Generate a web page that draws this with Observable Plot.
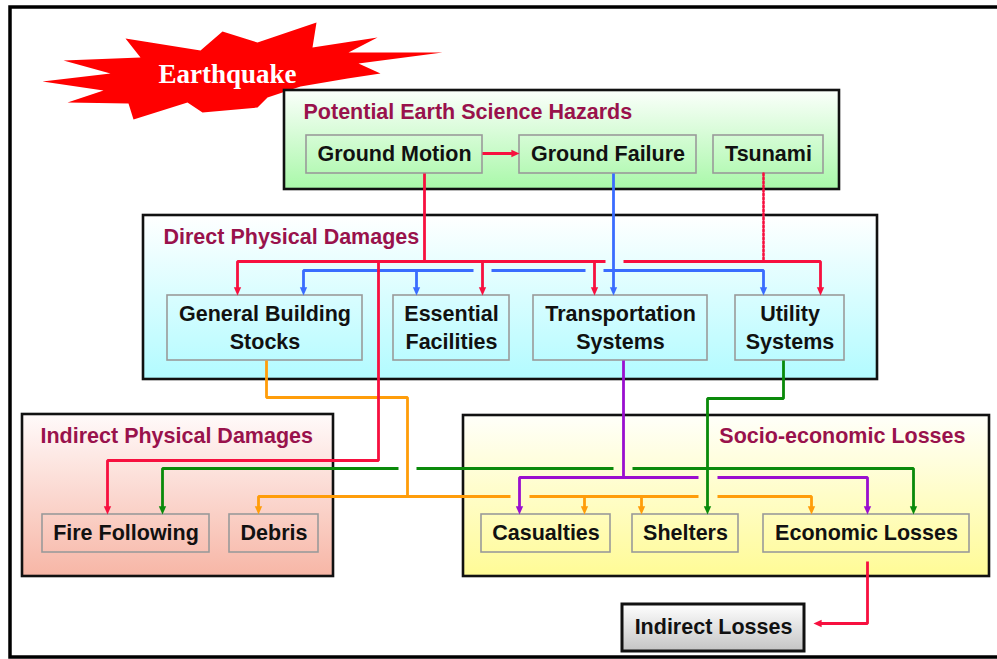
<!DOCTYPE html>
<html>
<head>
<meta charset="utf-8">
<script src="https://cdn.jsdelivr.net/npm/d3@7"></script>
<script src="https://cdn.jsdelivr.net/npm/@observablehq/plot@0.6"></script>
<style>
  html, body { margin: 0; padding: 0; background: #fff; overflow: hidden; }
</style>
</head>
<body>
<div id="chart"></div>
<script>
// ---------- data (diagram coordinates, px-like units) ----------
const frameBox = [{x1: 10, y1: 7, x2: 1001, y2: 657}];

const starburst = [
  [42,81],[110,73],[63,60],[140,57],[125,38],[200,50],[222,31],[257,42],[316,22],[312,47],
  [377,37],[348,52],[442,52],[358,63],[380,73],[347,78],[300,86],[267,97],[257,107],[202,112],
  [187,102],[133,119],[128,103],[67,102],[103,90]
];
const burstLabel = [{x: 227, y: 74, text: "Earthquake"}];

const panels = [
  {id: "hazard",   title: "Potential Earth Science Hazards", x1: 284, y1: 90,  x2: 839, y2: 189, tx: 303, ty: 113, anchor: "start"},
  {id: "direct",   title: "Direct Physical Damages",         x1: 143, y1: 215, x2: 877, y2: 379, tx: 163, ty: 238, anchor: "start"},
  {id: "indirect", title: "Indirect Physical Damages",       x1: 22,  y1: 414, x2: 333, y2: 576, tx: 40,  ty: 437, anchor: "start"},
  {id: "socio",    title: "Socio-economic Losses",           x1: 463, y1: 415, x2: 989, y2: 576, tx: 965, ty: 437, anchor: "end"}
];

const nodes = [
  {label: "Ground Motion",            x1: 306, y1: 135, x2: 482, y2: 173},
  {label: "Ground Failure",           x1: 519, y1: 135, x2: 696, y2: 173},
  {label: "Tsunami",                  x1: 713, y1: 135, x2: 823, y2: 173},
  {label: "General Building\nStocks", x1: 167, y1: 295, x2: 362, y2: 360},
  {label: "Essential\nFacilities",    x1: 393, y1: 295, x2: 509, y2: 360},
  {label: "Transportation\nSystems",  x1: 533, y1: 295, x2: 707, y2: 360},
  {label: "Utility\nSystems",         x1: 735, y1: 295, x2: 844, y2: 360},
  {label: "Fire Following",           x1: 42,  y1: 514, x2: 209, y2: 552},
  {label: "Debris",                   x1: 229, y1: 514, x2: 318, y2: 552},
  {label: "Casualties",               x1: 481, y1: 514, x2: 610, y2: 552},
  {label: "Shelters",                 x1: 632, y1: 514, x2: 738, y2: 552},
  {label: "Economic Losses",          x1: 763, y1: 514, x2: 969, y2: 552}
];
const finalNode = [{label: "Indirect Losses", x1: 622, y1: 604, x2: 804, y2: 651}];

// connectors: polyline points, arrowhead at the last point
const redLinks = [
  {pts: [[482,153],[519,153]], arrow: true},
  {pts: [[424,173],[424,261]], arrow: false},
  {pts: [[605,261],[237,261],[237,295]], arrow: true},
  {pts: [[623,261],[820,261],[820,295]], arrow: true},
  {pts: [[482,261],[482,295]], arrow: true},
  {pts: [[594,261],[594,295]], arrow: true},
  {pts: [[378,261],[378,460],[107,460],[107,514]], arrow: true},
  {pts: [[867,561],[867,623],[813,623]], arrow: true}
];
const redDotted = [{pts: [[763,173],[763,261]], arrow: false}];
const blueLinks = [
  {pts: [[613,173],[613,295]], arrow: true},
  {pts: [[473,270],[303,270],[303,295]], arrow: true},
  {pts: [[416,270],[416,295]], arrow: true},
  {pts: [[491,270],[585,270]], arrow: false},
  {pts: [[603,270],[763,270],[763,295]], arrow: true}
];
const orangeLinks = [
  {pts: [[266,360],[266,397],[407,397],[407,496]], arrow: false},
  {pts: [[510,496],[258,496],[258,514]], arrow: true},
  {pts: [[529,496],[698,496]], arrow: false},
  {pts: [[584,496],[584,514]], arrow: true},
  {pts: [[641,496],[641,514]], arrow: true},
  {pts: [[717,496],[811,496],[811,514]], arrow: true}
];
const purpleLinks = [
  {pts: [[623,360],[623,477]], arrow: false},
  {pts: [[698,477],[519,477],[519,514]], arrow: true},
  {pts: [[717,477],[867,477],[867,514]], arrow: true}
];
const greenLinks = [
  {pts: [[783,360],[783,398],[707,398],[707,514]], arrow: true},
  {pts: [[398,468],[162,468],[162,514]], arrow: true},
  {pts: [[416,468],[613,468]], arrow: false},
  {pts: [[632,468],[913,468],[913,514]], arrow: true}
];

// ---------- styles ----------
const COLORS = {red: "#f7103f", blue: "#3a6cff", orange: "#ff9d0a", purple: "#9a0fcf", green: "#0a8a0a"};
const TITLE_COLOR = "#99124c";
const FONT = "Liberation Sans, Arial, Helvetica, sans-serif";
const FS = 21.5;
const gradients = {
  hazard:   ["#fbfffb", "#a9f8a9"],
  direct:   ["#ffffff", "#b2fbff"],
  indirect: ["#fffafa", "#f7b6a6"],
  socio:    ["#fffffa", "#fffb96"],
  final:    ["#ffffff", "#c4c4c4"]
};

// ---------- helpers ----------
function flatten(links, color) {
  const rows = [];
  links.forEach((l, i) => {
    const pts = l.pts.map(p => p.slice());
    if (l.arrow) {
      const a = pts[pts.length - 2], b = pts[pts.length - 1];
      const dx = b[0] - a[0], dy = b[1] - a[1], len = Math.hypot(dx, dy);
      b[0] -= dx / len * 5; b[1] -= dy / len * 5;
    }
    pts.forEach(p => rows.push({id: color + i, color: COLORS[color], x: p[0], y: p[1]}));
  });
  return rows;
}
function heads(links, color) {
  return links.filter(l => l.arrow).map(l => {
    const a = l.pts[l.pts.length - 2], b = l.pts[l.pts.length - 1];
    const ang = Math.atan2(b[0] - a[0], -(b[1] - a[1])) * 180 / Math.PI;
    return {x: b[0], y: b[1], rotate: ang, color: COLORS[color]};
  });
}
const arrowSymbol = {
  draw(ctx, size) {
    const h = Math.sqrt(size);
    ctx.moveTo(0, 0);
    ctx.lineTo(-h * 0.45, h);
    ctx.lineTo(h * 0.45, h);
    ctx.closePath();
  }
};

const groups = [
  ["orange", orangeLinks], ["green", greenLinks], ["purple", purpleLinks],
  ["blue", blueLinks], ["red", redLinks]
];
const lineRows = groups.flatMap(([c, l]) => flatten(l, c));
const headRows = groups.flatMap(([c, l]) => heads(l, c));
const dottedRows = flatten(redDotted, "red");

const W = 997, H = 659;
const titleOpts = {x: "tx", y: "ty", text: "title", fill: TITLE_COLOR, fontSize: FS, fontWeight: "bold", fontFamily: FONT, dy: -1};
const svg = Plot.plot({
  width: W, height: H, margin: 0,
  style: {background: "white", overflow: "hidden"},
  x: {domain: [0, W], axis: null},
  y: {domain: [0, H], range: [0, H], axis: null},
  color: {type: "identity"},
  marks: [
    Plot.rect(frameBox, {x1: "x1", x2: "x2", y1: "y1", y2: "y2", fill: "white", stroke: "black", strokeWidth: 3.5}),
    Plot.line(starburst, {x: d => d[0], y: d => d[1], curve: "linear-closed", fill: "#ff0000", stroke: "none"}),
    Plot.text(burstLabel, {x: "x", y: "y", text: "text", fill: "white", fontSize: 27, fontWeight: "bold",
      fontFamily: "Liberation Serif, Times New Roman, serif"}),
    Plot.rect(panels, {x1: "x1", x2: "x2", y1: "y1", y2: "y2", fill: d => `url(#grad-${d.id})`,
      stroke: "#111", strokeWidth: 2.6, ariaLabel: "panel"}),
    Plot.text(panels.filter(d => d.anchor === "start"), {...titleOpts, textAnchor: "start"}),
    Plot.text(panels.filter(d => d.anchor === "end"), {...titleOpts, textAnchor: "end"}),
    Plot.rect(nodes, {x1: "x1", x2: "x2", y1: "y1", y2: "y2", fill: "none", stroke: "#9a9a9a", strokeWidth: 1.6}),
    Plot.text(nodes, {x: d => (d.x1 + d.x2) / 2, y: d => (d.y1 + d.y2) / 2, text: "label", fill: "#111",
      fontSize: FS, fontWeight: "bold", fontFamily: FONT, lineHeight: 1.28, dy: -2}),
    Plot.rect(finalNode, {x1: "x1", x2: "x2", y1: "y1", y2: "y2", fill: "url(#grad-final)",
      stroke: "#111", strokeWidth: 3, ariaLabel: "panel"}),
    Plot.text(finalNode, {x: d => (d.x1 + d.x2) / 2, y: d => (d.y1 + d.y2) / 2, text: "label", fill: "#111",
      fontSize: FS, fontWeight: "bold", fontFamily: FONT, dy: -1}),
    Plot.line(dottedRows, {x: "x", y: "y", z: "id", stroke: "color", strokeWidth: 2.6, strokeDasharray: "2,2"}),
    Plot.line(lineRows, {x: "x", y: "y", z: "id", stroke: "color", strokeWidth: 2.8, strokeLinejoin: "miter",
      strokeLinecap: "butt"}),
    Plot.dot(headRows, {x: "x", y: "y", symbol: arrowSymbol, r: 4.6, rotate: "rotate", fill: "color", stroke: "none"})
  ]
});

// gradients and drop shadow
const sel = d3.select(svg);
const defs = sel.insert("defs", ":first-child");
Object.entries(gradients).forEach(([id, [c0, c1]]) => {
  const g = defs.append("linearGradient").attr("id", "grad-" + id)
    .attr("x1", 0).attr("y1", 0).attr("x2", 0).attr("y2", 1);
  g.append("stop").attr("offset", "0%").attr("stop-color", c0);
  g.append("stop").attr("offset", "100%").attr("stop-color", c1);
});
const f = defs.append("filter").attr("id", "shadow").attr("x", "-5%").attr("y", "-5%").attr("width", "115%").attr("height", "125%");
f.append("feDropShadow").attr("dx", 2).attr("dy", 2).attr("stdDeviation", 1.2)
  .attr("flood-color", "#777").attr("flood-opacity", 0.55);
sel.selectAll('g[aria-label="panel"] rect').attr("filter", "url(#shadow)");

document.getElementById("chart").appendChild(svg);
</script>
</body>
</html>
